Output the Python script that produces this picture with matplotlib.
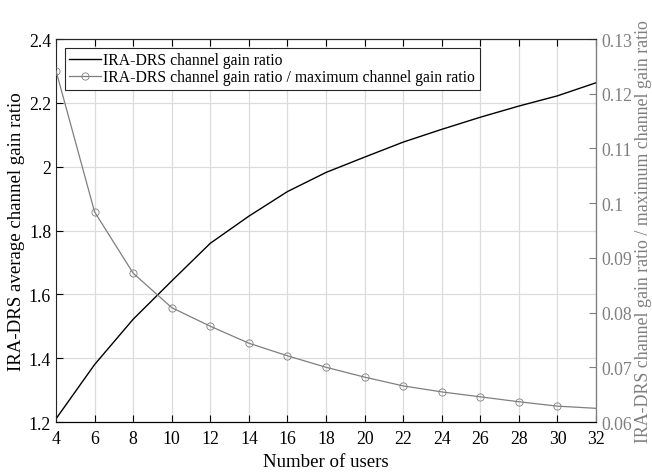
import numpy as np
import matplotlib.pyplot as plt

plt.rcParams['font.family'] = ['Liberation Serif', 'DejaVu Serif']
plt.rcParams['mathtext.fontset'] = 'stix'

users = [4, 6, 8, 10, 12, 14, 16, 18, 20, 22, 24, 26, 28, 30, 32]
gain_ratio = [1.21, 1.38, 1.522, 1.642, 1.76, 1.845, 1.922, 1.982, 2.03, 2.077,
              2.117, 2.155, 2.19, 2.222, 2.263]
gain_ratio_norm = [0.1242, 0.0984, 0.0872, 0.0809, 0.0775, 0.0744, 0.0721, 0.0700,
                   0.0682, 0.0666, 0.0655, 0.0646, 0.0637, 0.0629, 0.0625]

gray = '#7f7f7f'

fig = plt.figure(figsize=(6.52, 4.77), dpi=100)
ax = fig.add_axes([0.0859, 0.1132, 0.8283, 0.8029])
ax2 = ax.twinx()

l1, = ax.plot(users, gain_ratio, color='black', lw=1.0,
              label='IRA-DRS channel gain ratio')
l2, = ax2.plot(users, gain_ratio_norm, color=gray, lw=0.9, marker='o',
               markersize=5.2, markerfacecolor='none', markeredgewidth=0.6,
               markevery=list(range(len(users) - 1)),
               label='IRA-DRS channel gain ratio / maximum channel gain ratio')

ax.set_xlim(4, 32)
ax.set_ylim(1.2, 2.4)
ax.set_xticks(users)
ax.set_yticks(np.arange(1.2, 2.41, 0.2))
ax.set_yticklabels(['1.2', '1.4', '1.6', '1.8', '2', '2.2', '2.4'])
ax2.set_ylim(0.06, 0.13)
ax2.set_yticks(np.arange(0.06, 0.1301, 0.01))
ax2.set_yticklabels(['0.06', '0.07', '0.08', '0.09', '0.1', '0.11', '0.12', '0.13'])

ax.grid(True, color='#dcdcdc', lw=0.9)
ax.set_axisbelow(True)

ax.tick_params(axis='both', direction='in', labelsize=12.8, length=5,
               top=True, right=False, width=0.8)
ax.tick_params(axis='x', pad=6)
ax2.tick_params(axis='y', direction='in', labelsize=12.8, length=5,
                colors=gray, width=0.8)

for s in ['left', 'bottom', 'top']:
    ax.spines[s].set_color('#262626')
ax2.spines['right'].set_color(gray)
ax2.spines['left'].set_visible(False)
ax2.spines['top'].set_color('#262626')

ax.set_xlabel('Number of users', fontsize=13.6, labelpad=4)
ax.set_ylabel('IRA-DRS average channel gain ratio', fontsize=13.6, labelpad=3)
ax2.set_ylabel('IRA-DRS channel gain ratio / maximum channel gain ratio',
               fontsize=12.9, color=gray, labelpad=2)

leg = ax.legend(handles=[l1, l2], loc='upper left', fontsize=11.3,
                fancybox=False, framealpha=1, edgecolor='#262626',
                borderaxespad=0.55, handlelength=2.0, handletextpad=0.15,
                borderpad=0.3, labelspacing=0.05)
leg.get_frame().set_linewidth(0.8)
leg.set_zorder(10)

fig.savefig('out.png', dpi=100)
